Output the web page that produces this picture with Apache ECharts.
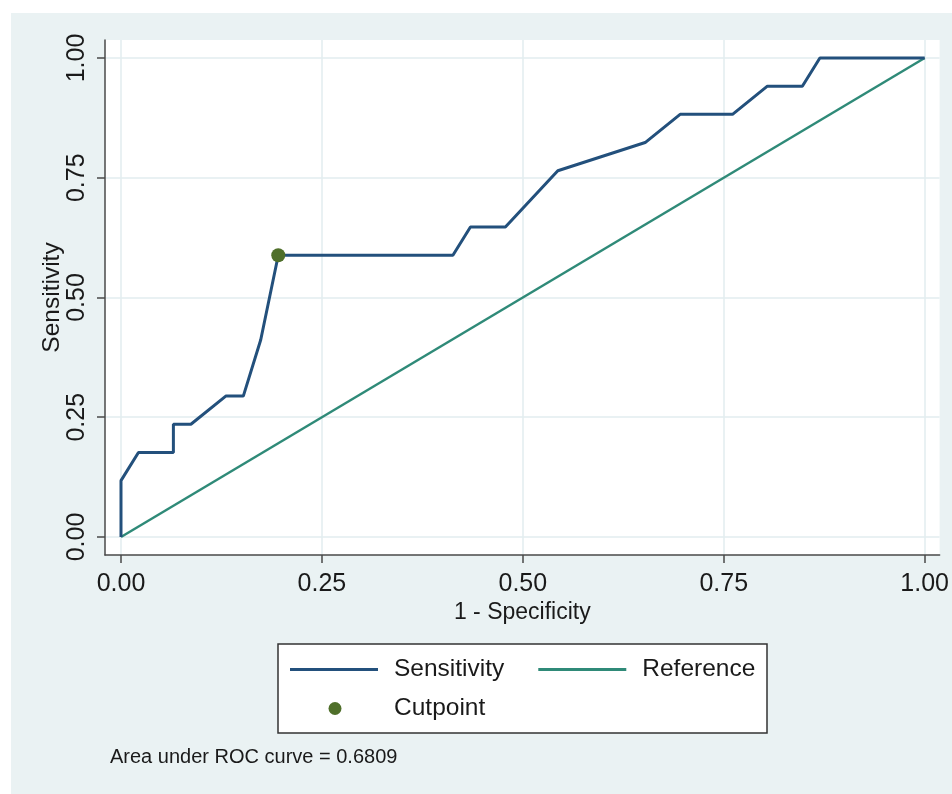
<!DOCTYPE html>
<html><head><meta charset="utf-8">
<script src="https://cdn.jsdelivr.net/npm/echarts@6/dist/echarts.min.js"></script>
<style>
html,body{margin:0;padding:0;background:#fff;}
#bg{position:absolute;left:11px;top:13px;width:941px;height:781px;background:#EAF2F3;}
#chart{position:absolute;left:0;top:0;width:952px;height:794px;}
</style></head><body>
<div id="bg"></div><div id="chart"></div>
<script>
// ROC curve data (1 - Specificity, Sensitivity)
const fpr  = [0, 0, 0.0217, 0.0652, 0.0652, 0.0870, 0.1304, 0.1522, 0.1739, 0.1957, 0.4130, 0.4348, 0.4783, 0.5435, 0.6522, 0.6957, 0.7609, 0.8043, 0.8478, 0.8696, 1];
const sens = [0, 0.1176, 0.1765, 0.1765, 0.2353, 0.2353, 0.2941, 0.2941, 0.4118, 0.5882, 0.5882, 0.6471, 0.6471, 0.7647, 0.8235, 0.8824, 0.8824, 0.9412, 0.9412, 1, 1];
const refX = [0, 1];
const refY = [0, 1];
const cutX = [0.1957];
const cutY = [0.5882];
const xTicks = [0, 0.25, 0.5, 0.75, 1];
const yTicks = [0, 0.25, 0.5, 0.75, 1];
const xTitle = '1 - Specificity';
const yTitle = 'Sensitivity';
const seriesNames = ['Sensitivity', 'Reference', 'Cutpoint'];
const aucLabel = 'Area under ROC curve = 0.6809';

const font = "'Liberation Sans', Arial, sans-serif";
const txt = '#1a1a1a';
const gridCol = '#E2ECEF';
const axisCol = '#4a4a4a';
const navy = '#23507C';
const teal = '#2F8A78';
const green = '#4F6F2A';

const chart = echarts.init(document.getElementById('chart'), null, {renderer: 'canvas'});
chart.setOption({
  animation: false,
  backgroundColor: 'transparent',
  grid: {left: 105, right: 11, top: 40, bottom: 239, show: true, backgroundColor: '#ffffff', borderWidth: 0, containLabel: false},
  xAxis: {
    type: 'value', min: -0.0199, max: 1.0186,
    axisLine: {show: true, onZero: false, lineStyle: {color: axisCol, width: 1.5}},
    axisTick: {show: true, customValues: xTicks, length: 8, lineStyle: {color: axisCol, width: 1.5}},
    axisLabel: {customValues: xTicks, formatter: v => v.toFixed(2), margin: 17, fontFamily: font, fontSize: 25, color: txt},
    splitLine: {show: true, lineStyle: {color: gridCol, width: 1.5}},
    name: xTitle, nameLocation: 'middle', nameGap: 46, nameMoveOverlap: false,
    nameTextStyle: {fontFamily: font, fontSize: 23, color: txt}
  },
  yAxis: {
    type: 'value', min: -0.0376, max: 1.0376,
    axisLine: {show: true, onZero: false, lineStyle: {color: axisCol, width: 1.5}},
    axisTick: {show: true, customValues: yTicks, length: 8, lineStyle: {color: axisCol, width: 1.5}},
    axisLabel: {customValues: yTicks, formatter: v => v.toFixed(2), rotate: 90, margin: 15, fontFamily: font, fontSize: 25, color: txt},
    splitLine: {show: true, lineStyle: {color: gridCol, width: 1.5}},
    name: yTitle, nameLocation: 'middle', nameGap: 40, nameMoveOverlap: false,
    nameTextStyle: {fontFamily: font, fontSize: 24.5, color: txt}
  },
  legend: [
    {data: [{name: seriesNames[0], icon: 'rect'}, {name: seriesNames[1], icon: 'rect'}],
     left: 290, top: 657, itemWidth: 88, itemHeight: 3, itemGap: 34, padding: 0,
     textStyle: {fontFamily: font, fontSize: 24.5, color: txt, padding: [0, 0, 0, 11]}},
    {data: [{name: seriesNames[2], icon: 'circle'}],
     left: 328.5, top: 696, itemWidth: 13, itemHeight: 13, padding: 0,
     textStyle: {fontFamily: font, fontSize: 24.5, color: txt, padding: [0, 0, 0, 47.5]}}
  ],
  title: {text: aucLabel, left: 110, top: 747, padding: 0,
    textStyle: {fontFamily: font, fontSize: 20, fontWeight: 'normal', color: txt}},
  graphic: [{type: 'rect', shape: {x: 278, y: 644, width: 489, height: 89},
    style: {fill: '#ffffff', stroke: '#333333', lineWidth: 1.5}, z: 0}],
  series: [
    {name: seriesNames[0], type: 'line', symbol: 'none', data: fpr.map((x, i) => [x, sens[i]]),
     lineStyle: {color: navy, width: 3}, itemStyle: {color: navy}, z: 3},
    {name: seriesNames[1], type: 'line', symbol: 'none', data: refX.map((x, i) => [x, refY[i]]),
     lineStyle: {color: teal, width: 2.5}, itemStyle: {color: teal}, z: 2},
    {name: seriesNames[2], type: 'scatter', symbol: 'circle', symbolSize: 14, data: cutX.map((x, i) => [x, cutY[i]]),
     itemStyle: {color: green, opacity: 1}, z: 4}
  ]
});
</script>
</body></html>
